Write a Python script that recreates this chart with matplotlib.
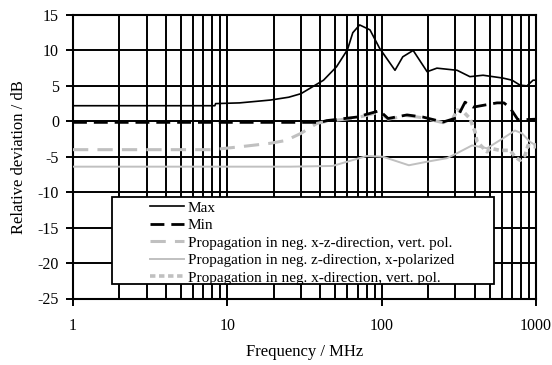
import matplotlib
matplotlib.use("Agg")
import matplotlib.pyplot as plt
from matplotlib.patches import Rectangle
from matplotlib.ticker import FixedLocator, NullFormatter

plt.rcParams['font.family'] = ['Liberation Serif', 'DejaVu Serif']
plt.rcParams['axes.unicode_minus'] = False

# Max curve
f_max = [1, 8.3, 8.4, 12, 19, 25, 30, 42, 51, 60, 65, 72, 84, 97, 122, 137, 160, 197, 228, 308, 373, 454, 611, 700, 788, 875, 957, 1000]
v_max = [2.2, 2.2, 2.5, 2.6, 3.0, 3.4, 3.9, 5.8, 7.7, 10.1, 12.5, 13.6, 12.9, 10.3, 7.2, 9.1, 10.0, 7.0, 7.5, 7.2, 6.3, 6.5, 6.1, 5.8, 5.1, 5.0, 5.8, 5.8]

# Min curve
f_min = [1, 40, 44, 69, 97, 110, 146, 185, 250, 308, 347, 391, 559, 620, 679, 765, 1000]
v_min = [-0.15, -0.15, 0.1, 0.6, 1.5, 0.4, 0.9, 0.6, -0.1, 0.5, 2.7, 2.0, 2.6, 2.6, 1.9, 0.2, 0.3]

# Propagation in neg. x-z-direction, vert. pol.
f_xz = [1, 8, 12, 19, 24, 30, 38, 44, 69, 97, 110, 146, 185, 250, 300]
v_xz = [-4.0, -4.0, -3.6, -3.1, -2.7, -1.7, -0.3, 0.0, 0.5, 1.3, 0.3, 0.8, 0.5, -0.2, 0.4]

# Propagation in neg. z-direction, x-polarized
f_z = [1, 25.5, 48, 80, 102, 150, 197, 265, 308, 385, 482, 611, 731, 811, 915, 1000]
v_z = [-6.4, -6.4, -6.3, -4.9, -5.0, -6.2, -5.7, -5.2, -4.5, -3.4, -3.8, -2.4, -1.3, -1.7, -2.9, -3.4]

# Propagation in neg. x-direction, vert. pol.
f_x = [290, 308, 337, 373, 403, 415, 482, 504, 585, 679, 731, 788, 849, 887, 986, 1000]
v_x = [0.4, 1.6, 1.4, 0.4, -1.5, -2.9, -4.3, -3.8, -4.1, -4.1, -5.0, -5.5, -4.8, -3.4, -3.6, -3.1]

labels = ["Max", "Min",
          "Propagation in neg. x-z-direction, vert. pol.",
          "Propagation in neg. z-direction, x-polarized",
          "Propagation in neg. x-direction, vert. pol."]

fig = plt.figure(figsize=(5.52, 3.65), dpi=100)
ax = fig.add_axes([73 / 552, 1 - 298.5 / 365, 463 / 552, 283.5 / 365])

gray = "#c0c0c0"
l3, = ax.plot(f_xz, v_xz, color=gray, lw=2.2, dashes=(5, 3), zorder=3)
l4, = ax.plot(f_z, v_z, color=gray, lw=1.4, zorder=3)
l5, = ax.plot(f_x, v_x, color=gray, lw=2.6, dashes=(1.5, 1), zorder=3)
l1, = ax.plot(f_max, v_max, color="black", lw=1.2, zorder=4)
l2, = ax.plot(f_min, v_min, color="black", lw=2.0, dashes=(5, 2.5), zorder=4)

ax.set_xscale("log")
ax.set_xlim(1, 1000)
ax.set_ylim(-25, 15)
ax.set_yticks(range(-25, 16, 5))
ax.set_xticks([1, 10, 100, 1000])
ax.set_xticklabels(["1", "10", "100", "1000"])
minors = [m * d for d in (1, 10, 100) for m in range(2, 10)]
ax.xaxis.set_minor_locator(FixedLocator(minors))
ax.xaxis.set_minor_formatter(NullFormatter())

ax.grid(True, which="both", axis="x", color="black", lw=1.4, zorder=1)
ax.grid(True, which="major", axis="y", color="black", lw=1.4, zorder=1)
ax.set_axisbelow(True)
for s in ax.spines.values():
    s.set_linewidth(1.5)

ax.tick_params(axis="both", which="major", direction="out", length=5, width=1.4,
               labelsize=11.5, pad=5)
ax.tick_params(axis="x", which="major", pad=9)
ax.tick_params(axis="x", which="minor", length=0)

ax.set_xlabel("Frequency / MHz", fontsize=12, labelpad=7)
ax.set_ylabel("Relative deviation / dB", fontsize=12, labelpad=8)

# white legend box covering the grid
box = Rectangle((39 / 463, 14.5 / 283.5), 382 / 463, 87 / 283.5, transform=ax.transAxes,
                facecolor="white", edgecolor="black", lw=1.3, zorder=5)
ax.add_patch(box)
leg = ax.legend([l1, l2, l3, l4, l5], labels, loc="upper left",
                bbox_to_anchor=(77 / 463, (298.5 - 201) / 283.5),
                frameon=False, fontsize=11, handlelength=2.2, handletextpad=0.26,
                labelspacing=0.25, borderpad=0, borderaxespad=0)
leg.set_zorder(6)

fig.savefig("out.png", dpi=100)
